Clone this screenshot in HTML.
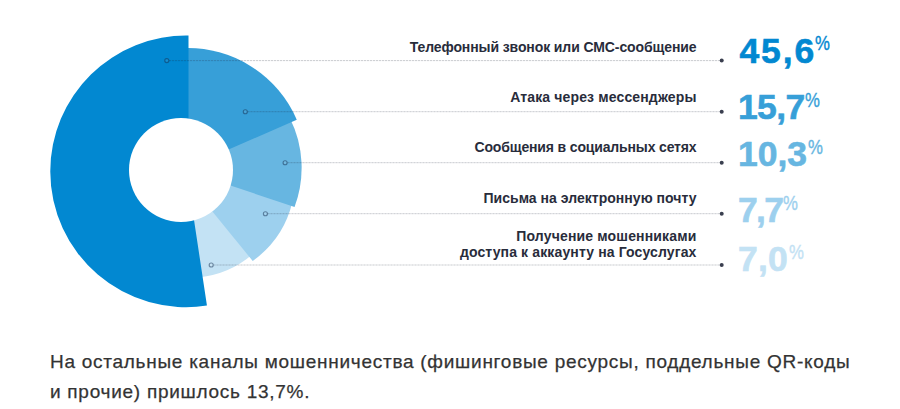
<!DOCTYPE html>
<html><head><meta charset="utf-8">
<style>
html,body{margin:0;padding:0;background:#fff;}
body{width:900px;height:409px;position:relative;overflow:hidden;font-family:"Liberation Sans",Arial,sans-serif;}
svg.chart{position:absolute;left:0;top:0;}
.lbl{position:absolute;right:203.5px;font-weight:bold;font-size:14px;letter-spacing:0px;line-height:15.5px;color:#282c3b;text-align:right;white-space:nowrap;}
.pct{position:absolute;left:738px;font-weight:bold;font-size:35.5px;line-height:36px;-webkit-text-stroke:0.6px currentColor;white-space:nowrap;}
.pct sup{display:inline-block;-webkit-text-stroke:0.35px currentColor;font-size:19.5px;letter-spacing:0;font-weight:normal;vertical-align:top;position:relative;top:-7.3px;margin-left:1px;transform:scaleX(0.86);transform-origin:0 0;}
.note{position:absolute;left:50px;top:346.5px;font-size:19px;letter-spacing:0.73px;line-height:30px;color:#333;-webkit-text-stroke:0.25px #333;width:850px;}
</style></head><body>
<svg class="chart" width="900" height="409" viewBox="0 0 900 409">
<path d="M188.26 181.82L252.03 254.82A96.35 96.35 0 0 1 199.27 277.29Z" fill="#c3e2f4"/>
<path d="M176.78 167.72L292.45 201.78A102.37 102.37 0 0 1 252.72 261.02Z" fill="#9dd0ee"/>
<path d="M182.40 169.59L289.96 118.16A111.67 111.67 0 0 1 294.57 206.92Z" fill="#67b6e1"/>
<path d="M188.50 166.93L184.35 48.18A118.51 118.51 0 0 1 296.77 119.73Z" fill="#379fd8"/>
<path d="M188.50 183.44L188.50 35.62A135.77 135.77 0 0 0 50.28 171.38A135.77 135.77 0 0 0 206.93 305.53Z" fill="#0288d1"/>
<circle cx="181" cy="170" r="52" fill="#fff"/>
<g stroke="rgba(30,40,60,0.06)" stroke-width="1">
<line x1="169" y1="60.6" x2="720" y2="60.6"/>
<line x1="247.5" y1="111.7" x2="720" y2="111.7"/>
<line x1="287.5" y1="162.7" x2="720" y2="162.7"/>
<line x1="267.5" y1="213.7" x2="720" y2="213.7"/>
<line x1="213.5" y1="265" x2="720" y2="265"/>
</g>
<g stroke="rgba(30,40,60,0.19)" stroke-width="1" stroke-dasharray="2 1">
<line x1="169" y1="60.6" x2="720" y2="60.6"/>
<line x1="247.5" y1="111.7" x2="720" y2="111.7"/>
<line x1="287.5" y1="162.7" x2="720" y2="162.7"/>
<line x1="267.5" y1="213.7" x2="720" y2="213.7"/>
<line x1="213.5" y1="265" x2="720" y2="265"/>
</g>
<g fill="rgba(255,255,255,0.08)" stroke="rgba(20,45,80,0.5)" stroke-width="1.15">
<circle cx="166.8" cy="60.6" r="2"/>
<circle cx="245.3" cy="111.7" r="2"/>
<circle cx="285.1" cy="162.7" r="2"/>
<circle cx="265.4" cy="213.7" r="2"/>
<circle cx="211.2" cy="265" r="2"/>
</g>
<g fill="#3a3f4f">
<circle cx="721.7" cy="60.6" r="2"/>
<circle cx="721.7" cy="111.7" r="2"/>
<circle cx="721.7" cy="162.7" r="2"/>
<circle cx="721.7" cy="213.7" r="2"/>
<circle cx="721.7" cy="265" r="2"/>
</g>
</svg>
<div class="lbl" style="top:40px;letter-spacing:-0.1px">Телефонный звонок или СМС-сообщение</div>
<div class="lbl" style="top:90px;letter-spacing:0.14px">Атака через мессенджеры</div>
<div class="lbl" style="top:140px;letter-spacing:-0.15px">Сообщения в социальных сетях</div>
<div class="lbl" style="top:191px;letter-spacing:0.03px">Письма на электронную почту</div>
<div class="lbl" style="top:229px"><span style="letter-spacing:0.16px">Получение мошенниками</span><br><span style="letter-spacing:0.13px">доступа к аккаунту на Госуслугах</span></div>
<div class="pct" style="top:32.5px;left:739.5px;color:#0288d1;letter-spacing:1.87px">45,6<sup style="margin-left:-1.5px">%</sup></div>
<div class="pct" style="top:89px;color:#379fd8;letter-spacing:-0.63px">15,7<sup style="margin-left:0px">%</sup></div>
<div class="pct" style="top:136px;color:#67b6e1;letter-spacing:0px">10,3<sup>%</sup></div>
<div class="pct" style="top:192px;color:#9dd0ee;letter-spacing:-1.65px">7,7<sup>%</sup></div>
<div class="pct" style="top:241px;color:#c3e2f4;letter-spacing:0.15px">7,0<sup>%</sup></div>
<div class="note">На остальные каналы мошенничества (фишинговые ресурсы, поддельные QR-коды<br>и прочие) пришлось 13,7%.</div>
</body></html>
